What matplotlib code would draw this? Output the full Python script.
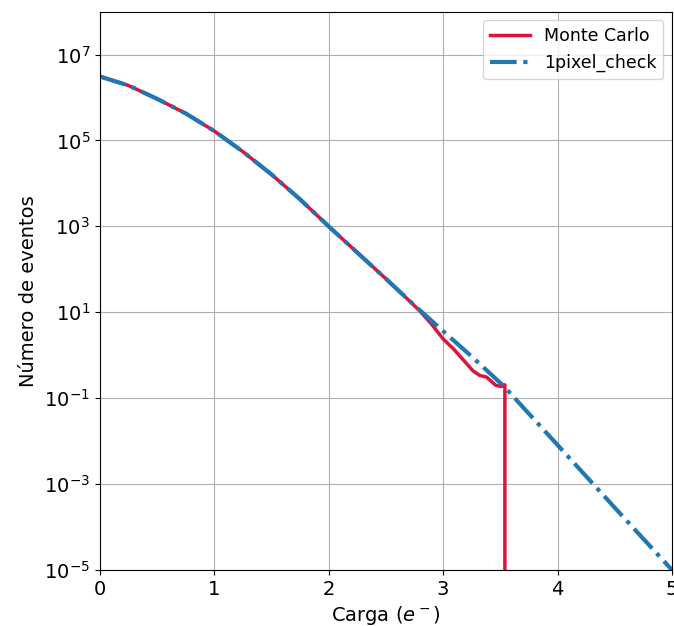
import numpy as np
import matplotlib
matplotlib.use("Agg")
import matplotlib.pyplot as plt

# values (log10 of number of events)
check_x = [0, 0.25, 0.5, 0.75, 1, 1.25, 1.5, 1.75, 2, 2.25, 2.5, 2.75, 3, 3.25, 3.53, 4, 4.5, 5]
check_log = [6.49, 6.28, 5.97, 5.63, 5.22, 4.74, 4.21, 3.63, 3.0, 2.39, 1.78, 1.16, 0.56, -0.03, -0.72, -2.09, -3.55, -5.0]

mc_x = [0, 0.25, 0.5, 0.75, 1, 1.25, 1.5, 1.75, 2, 2.25, 2.5, 2.7, 2.8, 2.9, 3.0, 3.09, 3.18, 3.26,
        3.32, 3.38, 3.46, 3.51, 3.54, 3.54]
mc_log = [6.49, 6.28, 5.97, 5.63, 5.22, 4.74, 4.21, 3.63, 3.0, 2.39, 1.78, 1.28, 1.02, 0.72, 0.38, 0.15,
          -0.12, -0.36, -0.47, -0.51, -0.70, -0.73, -0.69, -12]

fig = plt.figure(figsize=(6.74, 6.26), dpi=100)
ax = fig.add_axes([0.148, 0.0895, 0.849, 0.892])

ax.plot(mc_x, 10.0 ** np.array(mc_log), color="crimson", linewidth=2.5, label="Monte Carlo")
ax.plot(check_x, 10.0 ** np.array(check_log), color="#1f77b4", linestyle="-.", linewidth=3, label="1pixel_check")

ax.set_yscale("log")
ax.set_xlim(0, 5)
ax.set_ylim(1e-5, 1e8)
ax.set_yticks([1e-5, 1e-3, 1e-1, 1e1, 1e3, 1e5, 1e7])
ax.minorticks_off()
ax.tick_params(labelsize=14)
ax.set_xlabel("Carga ($e^-$)", fontsize=14)
ax.set_ylabel("Número de eventos", fontsize=14)
ax.grid(True)
ax.legend(loc="upper right", fontsize=12.5, handlelength=2.3)

fig.savefig("out.png", dpi=100)
